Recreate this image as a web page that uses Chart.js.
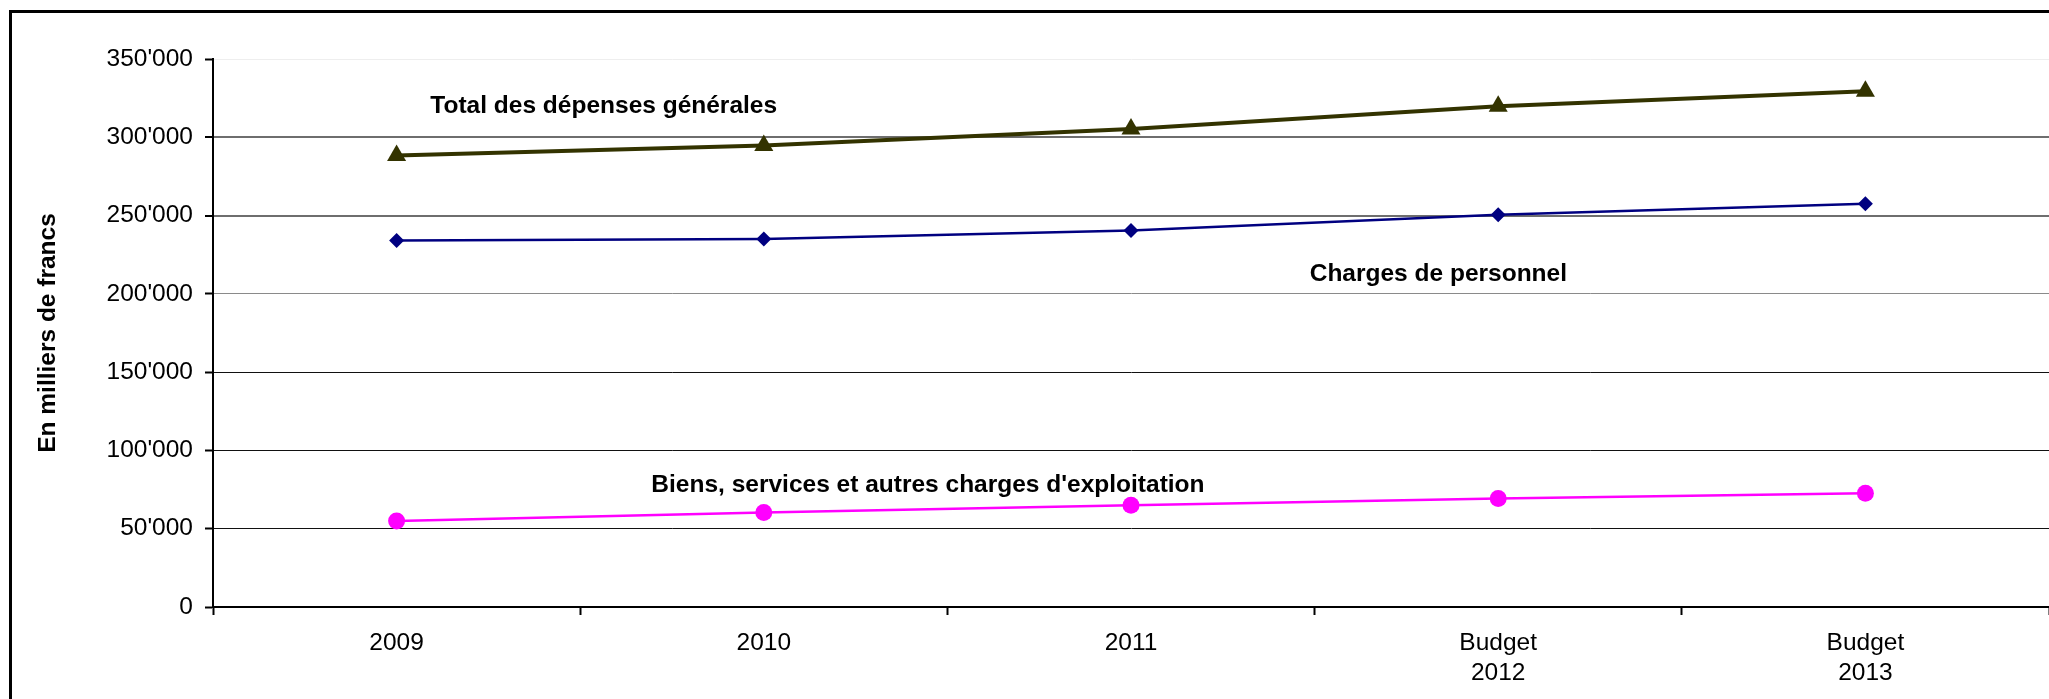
<!DOCTYPE html>
<html lang="fr">
<head>
    <meta charset="UTF-8">
    <title>Dépenses générales</title>
    <script src="https://cdn.jsdelivr.net/npm/chart.js@4.4.1/dist/chart.umd.min.js"></script>
    <style>
        body { margin: 0; background: #fff; overflow: hidden; }
        #wrap { position: relative; width: 2049px; height: 699px; }
        #frame { position: absolute; left: 9px; top: 10px; width: 2100px; height: 800px; border: 3px solid #000; pointer-events: none; }
    </style>
</head>
<body>
<div id="wrap">
    <canvas id="chart"></canvas>
    <div id="frame"></div>
</div>

<script>
    // years (the last two are budget figures)
    const years = ['2009', '2010', '2011', ['Budget', '2012'], ['Budget', '2013']];

    // en milliers de francs
    const totalDepenses = [288300, 294700, 305300, 319800, 329400];
    const chargesPersonnel = [234000, 235000, 240500, 250500, 257600];
    const biensServices = [55000, 60300, 65000, 69300, 72700];

    const yTicks = [0, 50000, 100000, 150000, 200000, 250000, 300000, 350000];

    // series captions, placed in data units (category index, value)
    const captions = [
        { text: 'Total des dépenses générales', at: 0.564, value: 319600 },
        { text: 'Charges de personnel', at: 2.837, value: 212500 },
        { text: "Biens, services et autres charges d'exploitation", at: 1.447, value: 77700 }
    ];

    const FONT = "'Liberation Sans', Arial, sans-serif";

    function fmt(v) {
        return String(v).replace(/\B(?=(\d{3})+(?!\d))/g, "'");
    }

    function gridColor(ctx) {
        const v = ctx.tick ? ctx.tick.value : 0;
        if (v === 350000) return '#eeeeee';
        if (v >= 250000) return '#6e6e6e';
        if (v === 200000) return '#8a8a8a';
        return '#111111';
    }

    const captionPlugin = {
        id: 'captions',
        afterDatasetsDraw(chart) {
            const ctx = chart.ctx;
            const x = chart.scales.x;
            const y = chart.scales.y;
            ctx.save();
            ctx.font = 'bold 24.5px ' + FONT;
            ctx.fillStyle = '#000';
            ctx.textAlign = 'center';
            ctx.textBaseline = 'middle';
            captions.forEach(c => {
                ctx.fillText(c.text, x.getPixelForValue(c.at), y.getPixelForValue(c.value));
            });
            ctx.restore();
        }
    };

    new Chart(document.getElementById('chart'), {
        type: 'line',
        data: {
            labels: years,
            datasets: [{
                label: 'Total des dépenses générales',
                data: totalDepenses,
                borderColor: '#333300',
                backgroundColor: '#333300',
                borderWidth: 4,
                pointStyle: 'triangle',
                pointRadius: 11,
                pointBorderWidth: 0,
                tension: 0
            }, {
                label: 'Charges de personnel',
                data: chargesPersonnel,
                borderColor: '#000080',
                backgroundColor: '#000080',
                borderWidth: 2.5,
                pointStyle: 'rectRot',
                pointRadius: 7.5,
                pointBorderWidth: 0,
                tension: 0
            }, {
                label: "Biens, services et autres charges d'exploitation",
                data: biensServices,
                borderColor: '#ff00ff',
                backgroundColor: '#ff00ff',
                borderWidth: 2.5,
                pointStyle: 'circle',
                pointRadius: 8.5,
                pointBorderWidth: 0,
                tension: 0
            }]
        },
        options: {
            responsive: true,
            maintainAspectRatio: false,
            animation: false,
            layout: { autoPadding: false, padding: { top: 59, left: 0, right: 0, bottom: 0 } },
            plugins: {
                legend: { display: false },
                tooltip: { enabled: false }
            },
            scales: {
                x: {
                    offset: true,
                    grid: {
                        offset: true,
                        drawOnChartArea: false,
                        drawTicks: true,
                        tickLength: 8,
                        tickColor: '#000',
                        tickWidth: 2
                    },
                    border: { color: '#000', width: 2 },
                    ticks: {
                        color: '#000',
                        padding: 13,
                        maxRotation: 0,
                        font: { family: FONT, size: 24.5, lineHeight: 1.22 }
                    },
                    afterFit(scale) {
                        scale.height = 92;
                        scale.paddingLeft = 0;
                        scale.paddingRight = 0;
                    }
                },
                y: {
                    min: 0,
                    max: 350000,
                    afterBuildTicks(scale) {
                        scale.ticks = yTicks.map(v => ({ value: v }));
                    },
                    grid: {
                        color: gridColor,
                        lineWidth: ctx => (ctx.tick && ctx.tick.value >= 250000 && ctx.tick.value < 350000) ? 2 : 1,
                        drawTicks: true,
                        tickLength: 8,
                        tickColor: '#000',
                        tickWidth: 2
                    },
                    border: { color: '#000', width: 2 },
                    ticks: {
                        color: '#000',
                        padding: 12,
                        font: { family: FONT, size: 24.5 },
                        callback: v => fmt(v)
                    },
                    title: {
                        display: true,
                        text: 'En milliers de francs',
                        color: '#000',
                        padding: { top: 34, bottom: 0 },
                        font: { family: FONT, size: 24.5, weight: 'bold' }
                    },
                    afterFit(scale) { scale.width = 213; }
                }
            }
        },
        plugins: [captionPlugin]
    });
</script>
</body>
</html>
